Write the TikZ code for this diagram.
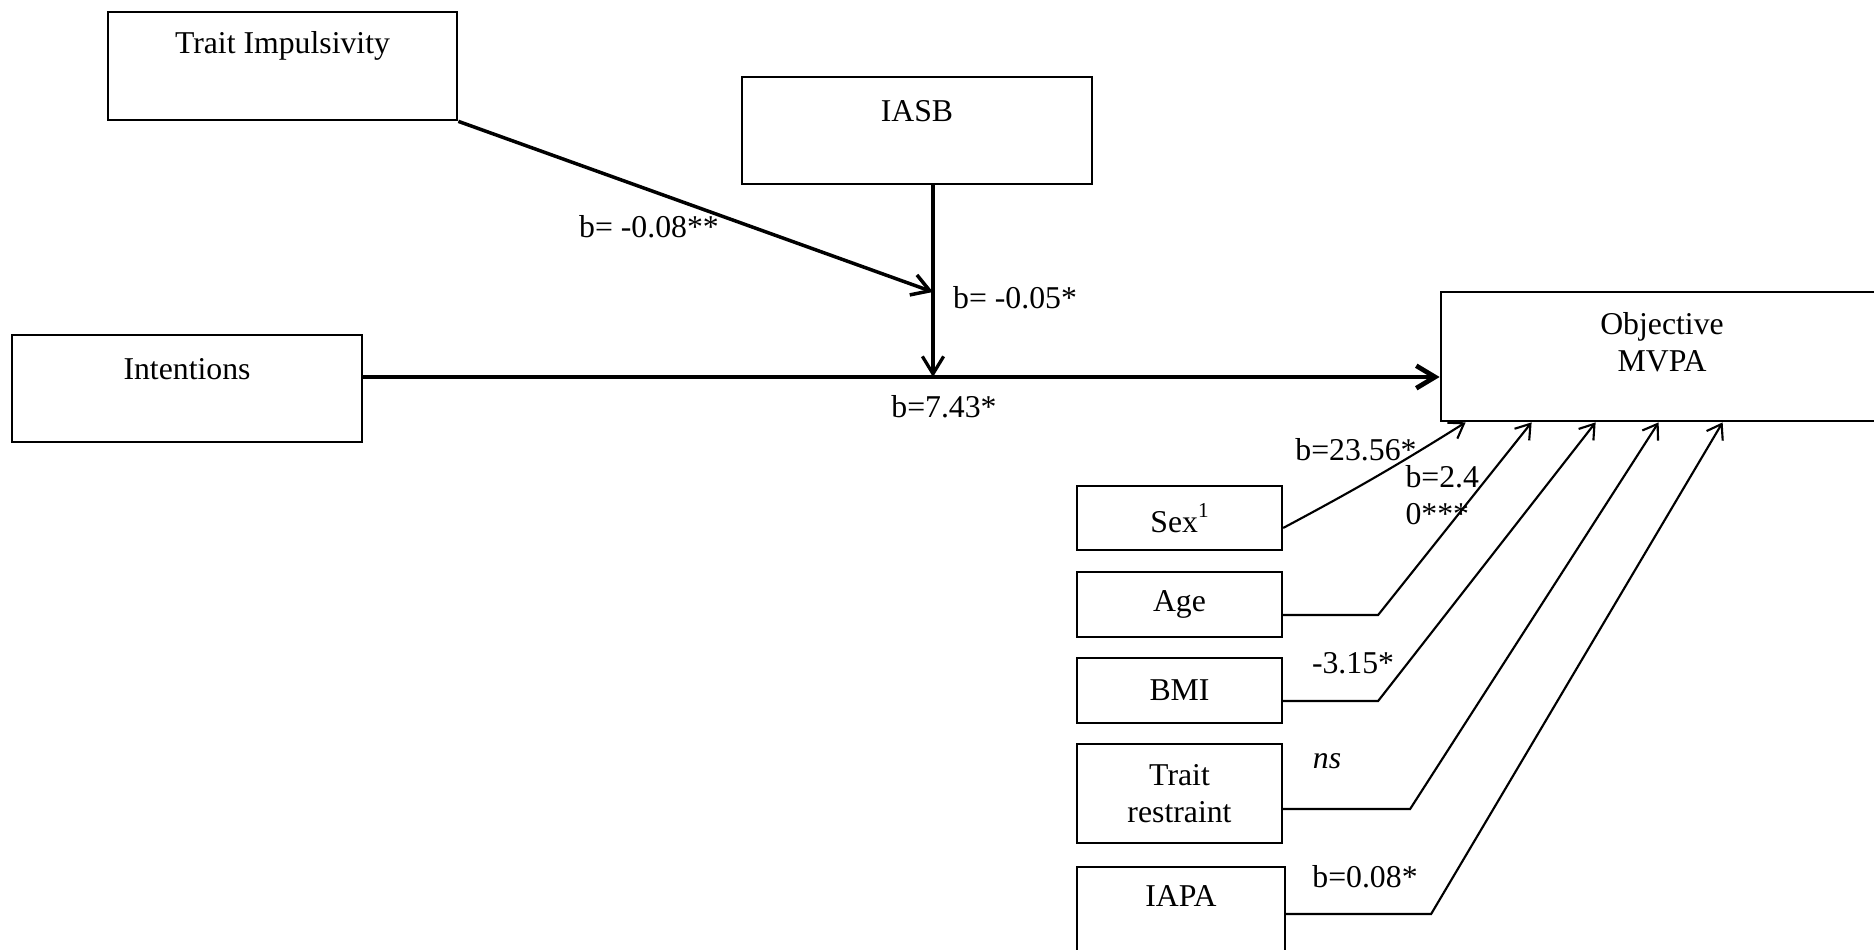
\documentclass[tikz,border=0pt]{standalone}
\usepackage{fontspec}
\setmainfont{Liberation Serif}
\usetikzlibrary{arrows.meta,calc}

\begin{document}
\begin{tikzpicture}[x=0.4pt,y=-0.4pt,
  font=\fontsize{12.7}{14.8}\selectfont,
  box/.style={draw,line width=0.9pt,rectangle,inner sep=0pt,align=center},
  bigbox/.style={box,line width=1.1pt},
  txt/.style={inner sep=0pt,align=center},
  mainpath/.style={line width=1.9pt,-{Straight Barb[length=7.5pt,width=9pt]}},
  modpath/.style={line width=1.4pt,-{Straight Barb[length=7pt,width=8.5pt]}},
  covpath/.style={line width=0.85pt,-{Straight Barb[length=5.5pt,width=7.5pt]}}
]
\useasboundingbox (0,0) rectangle (1874,950);

% predictor, moderators and outcome
\node[bigbox,minimum width=139.6pt,minimum height=43.2pt] (ti) at (282.5,66) {};
\node[txt] (tiText) at (282.5,46) {Trait Impulsivity};
\node[bigbox,minimum width=140pt,minimum height=42.8pt] (iasb) at (917,130.5) {};
\node[txt] (iasbText) at (917,111) {IASB};
\node[bigbox,minimum width=140pt,minimum height=42.8pt] (int) at (187,388.5) {};
\node[txt] (intText) at (187,369) {Intentions};
\node[bigbox,minimum width=176.8pt,minimum height=51.6pt] (mvpa) at (1662,356.5) {};
\node[txt] (mvpaText) at (1662,342) {Objective\\MVPA};

% covariates
\node[box,minimum width=82pt,minimum height=25.6pt] (sex) at (1179.5,518) {Sex\raisebox{1.05ex}{\fontsize{8.5}{9}\selectfont 1}};
\node[box,minimum width=82pt,minimum height=26pt] (age) at (1179.5,604.5) {Age};
\node[box,minimum width=82pt,minimum height=26pt] (bmi) at (1179.5,690.5) {BMI};
\node[box,minimum width=82pt,minimum height=39.6pt] (tr) at (1179.5,793.5) {Trait\\restraint};
\node[box,minimum width=83.2pt,minimum height=43.2pt] (iapa) at (1181,921) {};
\node[txt] (iapaText) at (1181,896) {IAPA};

% junction points on the main path
\coordinate (hz) at (933,377);
\coordinate (mod) at (933,292);

% main effect and moderation
\draw[mainpath] (int.east |- hz) -- (mvpa.west |- hz);
\draw[modpath,line width=1.3pt] (iasb.south -| hz) -- (hz);
\draw[modpath] (ti.south east) -- (mod);

% covariate paths
\draw[covpath] ($(sex.east)+(0,10)$) to[bend right=2] ($(mvpa.south west)+(26,0)$);
\draw[covpath] ($(age.east)+(0,10.5)$) -- ++(95,0) -- ($(mvpa.south west)+(92,0)$);
\draw[covpath] ($(bmi.east)+(0,10.5)$) -- ++(95,0) -- ($(mvpa.south west)+(156,0)$);
\draw[covpath] ($(tr.east)+(0,15.5)$) -- ++(127,0) -- ($(mvpa.south west)+(219,0)$);
\draw[covpath] ($(iapa.east)+(0,-7)$) -- ++(145,0) -- ($(mvpa.south west)+(283,0)$);

% coefficients
\node[txt] (bTI) at (649,227) {b= -0.08**};
\node[txt] (bIASB) at (1015,298) {b= -0.05*};
\node[txt] (bInt) at (944,407) {b=7.43*};
\node[txt] (bSex) at (1356,450) {b=23.56*};
\node[txt,anchor=west,align=left] (bAge) at (1405,495) {b=2.4\\0***};
\node[txt] (bBMI) at (1353,663) {-3.15*};
\node[txt] (bTR) at (1327,761) {\textit{ns}};
\node[txt] (bIAPA) at (1365,877) {b=0.08*};
\end{tikzpicture}
\end{document}
